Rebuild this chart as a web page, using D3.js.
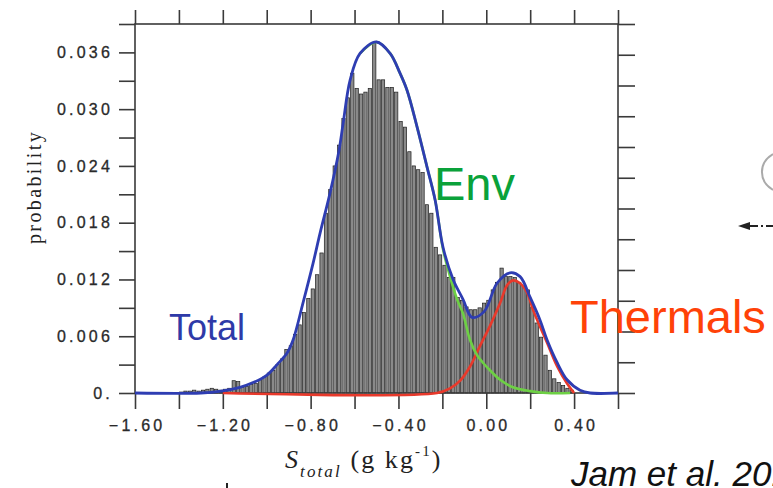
<!DOCTYPE html>
<html>
<head>
<meta charset="utf-8">
<script src="https://cdn.jsdelivr.net/npm/d3@7/dist/d3.min.js"></script>
<style>
  html, body { margin: 0; padding: 0; background: #fff; }
  svg { display: block; }
</style>
</head>
<body>
<svg id="chart" width="773" height="488"></svg>
<script>
// ---------------- data ----------------
const binWidth = 0.02;
const binLeft = [
  -1.40,-1.38,-1.36,-1.34,-1.32,-1.30,-1.28,-1.26,-1.24,-1.22,
  -1.20,-1.18,-1.16,-1.14,-1.12,-1.10,-1.08,-1.06,-1.04,-1.02,
  -1.00,-0.98,-0.96,-0.94,-0.92,-0.90,-0.88,-0.86,-0.84,-0.82,
  -0.80,-0.78,-0.76,-0.74,-0.72,-0.70,-0.68,-0.66,-0.64,-0.62,
  -0.60,-0.58,-0.56,-0.54,-0.52,-0.50,-0.48,-0.46,-0.44,-0.42,
  -0.40,-0.38,-0.36,-0.34,-0.32,-0.30,-0.28,-0.26,-0.24,-0.22,
  -0.20,-0.18,-0.16,-0.14,-0.12,-0.10,-0.08,-0.06,-0.04,-0.02,
   0.00, 0.02, 0.04, 0.06, 0.08, 0.10, 0.12, 0.14, 0.16, 0.18,
   0.20, 0.22, 0.24, 0.26, 0.28, 0.30, 0.32, 0.34, 0.36, 0.38
];
const binProb = [
  0.0001,0.0002,0.0002,0.0003,0.0002,0.0003,0.0004,0.0005,0.0004,0.0003,
  0.0004,0.0005,0.0013,0.0012,0.0006,0.0007,0.0009,0.0010,0.0014,0.0017,
  0.0021,0.0024,0.0030,0.0036,0.0046,0.0050,0.0062,0.0072,0.0085,0.0100,
  0.0110,0.0125,0.0148,0.0190,0.0215,0.0240,0.0262,0.0290,0.0312,0.0338,
  0.0322,0.0316,0.0318,0.0322,0.0370,0.0331,0.0331,0.0323,0.0323,0.0318,
  0.0287,0.0281,0.0255,0.0240,0.0236,0.0233,0.0199,0.0190,0.0154,0.0146,
  0.0135,0.0122,0.0122,0.0101,0.0098,0.0091,0.0088,0.0088,0.0090,0.0095,
  0.0098,0.0109,0.0117,0.0132,0.0123,0.0123,0.0122,0.0117,0.0113,0.0109,
  0.0091,0.0074,0.0059,0.0040,0.0024,0.0015,0.0011,0.0008,0.0005,0.0003
];

const totalX = [-1.60,-1.30,-1.208,-1.122,-1.062,-0.999,-0.953,-0.908,-0.880,-0.835,-0.789,-0.757,-0.712,-0.671,-0.652,-0.620,-0.575,-0.500,-0.438,-0.393,-0.361,-0.315,-0.270,-0.233,-0.197,-0.151,-0.106,-0.065,-0.010,0.049,0.108,0.154,0.200,0.245,0.277,0.323,0.368,0.427,0.473,0.60];
const totalY = [0,0,0.0002,0.0006,0.0011,0.0019,0.0030,0.0042,0.0056,0.0095,0.0137,0.0169,0.0211,0.0256,0.0285,0.0331,0.0359,0.0371,0.0359,0.0338,0.0320,0.0281,0.0239,0.0204,0.0154,0.0120,0.0099,0.0080,0.0086,0.0116,0.0127,0.0123,0.0101,0.0077,0.0056,0.0032,0.0014,0.0003,0,0];

const envX = [-0.575,-0.500,-0.438,-0.393,-0.361,-0.315,-0.270,-0.233,-0.197,-0.165,-0.133,-0.106,-0.074,-0.042,-0.015,0.017,0.063,0.122,0.200,0.277,0.382];
const envY = [0.0359,0.0371,0.0359,0.0338,0.0320,0.0281,0.0239,0.0204,0.0152,0.0123,0.0099,0.0084,0.0056,0.0040,0.0032,0.0024,0.0014,0.0006,0.0002,0,0];

const thermX = [-1.20,-0.224,-0.165,-0.119,-0.074,-0.028,0.017,0.063,0.095,0.122,0.154,0.186,0.213,0.245,0.277,0.323,0.368,0.40];
const thermY = [0,0,0.0005,0.0013,0.0028,0.0050,0.0071,0.0095,0.0114,0.0119,0.0116,0.0106,0.0088,0.0070,0.0053,0.0028,0.0010,0];

const xTickValues = [-1.6,-1.4,-1.2,-1.0,-0.8,-0.6,-0.4,-0.2,0.0,0.2,0.4,0.6];
const xTickLabels = {"-1.6":"\u22121.60","-1.2":"\u22121.20","-0.8":"\u22120.80","-0.4":"\u22120.40","0":"0.00","0.4":"0.40"};
const yTickValues = [0,0.003,0.006,0.009,0.012,0.015,0.018,0.021,0.024,0.027,0.030,0.033,0.036,0.039];
const yTickLabels = {"0":"0.","0.006":"0.006","0.012":"0.012","0.018":"0.018","0.024":"0.024","0.03":"0.030","0.036":"0.036"};
const rightTickValues = [0,1,2,3,4,5,6,7,8,9,10,11,12];

// ---------------- drawing ----------------
const svg = d3.select("#chart");
const x = d3.scaleLinear().domain([-1.6, 0.6]).range([135, 618]);
const y = d3.scaleLinear().domain([0, 0.039]).range([393, 24]);
const yR = d3.scaleLinear().domain([0, 12]).range([393, 24]);
const axisColor = "#3a3a3a";
const key = v => String(+v.toFixed(4));

// bars
svg.append("g").selectAll("rect").data(binLeft).join("rect")
  .attr("x", d => x(d) + 0.5)
  .attr("width", d => x(d + binWidth) - x(d) - 1.1)
  .attr("y", (d, i) => y(binProb[i]))
  .attr("height", (d, i) => y(0) - y(binProb[i]))
  .attr("fill", "#8a8a8a")
  .attr("stroke", "#1e1e1e")
  .attr("stroke-width", 0.7);

// axes
function styleAxis(g) {
  g.select(".domain").remove();
  g.selectAll("line").attr("stroke", axisColor).attr("stroke-width", 1.6);
  g.selectAll("text").attr("fill", "#2a2a2a")
    .style("font-family", "'Liberation Sans', Arial, sans-serif")
    .style("font-size", "16px").style("letter-spacing", "3.2px")
    .style("stroke", "#2a2a2a").style("stroke-width", "0.3px");
}
svg.append("g").attr("transform", "translate(135,0)")
  .call(d3.axisLeft(y).tickValues(yTickValues).tickSize(16).tickPadding(6)
    .tickFormat(v => yTickLabels[key(v)] || ""))
  .call(styleAxis);
svg.append("g").attr("transform", "translate(0,393)")
  .call(d3.axisBottom(x).tickValues(xTickValues).tickSize(16).tickPadding(11)
    .tickFormat(v => xTickLabels[key(v)] || ""))
  .call(styleAxis)
  .selectAll("text").attr("dx", "1.6px");
svg.append("g").attr("transform", "translate(0,24)")
  .call(d3.axisTop(x).tickValues(xTickValues).tickSize(14).tickFormat(""))
  .call(styleAxis);
svg.append("g").attr("transform", "translate(618,0)")
  .call(d3.axisRight(yR).tickValues(rightTickValues).tickSize(17).tickFormat(""))
  .call(styleAxis);

// frame
svg.append("rect").attr("x", 135).attr("y", 24).attr("width", 483).attr("height", 369)
  .attr("fill", "none").attr("stroke", axisColor).attr("stroke-width", 1.6);

// curves
const line = (xs, ys) => d3.line().curve(d3.curveCatmullRom.alpha(0.5))
  .x((d, i) => x(xs[i])).y((d, i) => y(ys[i]))(xs);
svg.append("path").attr("d", line(thermX, thermY)).attr("fill", "none")
  .attr("stroke", "#e8392b").attr("stroke-width", 2.6);
svg.append("path").attr("d", line(envX, envY)).attr("fill", "none")
  .attr("stroke", "#6dd044").attr("stroke-width", 2.6);
svg.append("path").attr("d", line(totalX, totalY)).attr("fill", "none")
  .attr("stroke", "#2e3db2").attr("stroke-width", 2.8);

// axis titles
svg.append("text").attr("transform", "translate(41,187) rotate(-90)")
  .attr("text-anchor", "middle")
  .style("font-family", "'Liberation Serif', 'Times New Roman', serif")
  .style("font-size", "20px").style("letter-spacing", "2.4px")
  .attr("fill", "#222").text("probability");

const xt = svg.append("text").attr("x", 285).attr("y", 468)
  .style("font-family", "'Liberation Serif', 'Times New Roman', serif")
  .attr("fill", "#222").style("letter-spacing", "2.1px");
xt.append("tspan").style("font-style", "italic").style("font-size", "26px").text("S");
xt.append("tspan").style("font-style", "italic").style("font-size", "17px").attr("dy", 9).text("total");
xt.append("tspan").style("font-size", "26px").attr("dy", -9).text(" (g kg");
xt.append("tspan").style("font-size", "15px").attr("dy", -12).text("-1");
xt.append("tspan").style("font-size", "26px").attr("dy", 12).text(")");

// annotations
const sans = "'Liberation Sans', Arial, sans-serif";
svg.append("text").attr("x", 169).attr("y", 340).style("font-family", sans)
  .style("font-size", "36px").attr("fill", "#2e3aa8").text("Total");
svg.append("text").attr("x", 434).attr("y", 200).style("font-family", sans)
  .style("font-size", "47px").attr("fill", "#0aa23a").text("Env");
svg.append("text").attr("x", 570).attr("y", 486).style("font-family", sans)
  .style("font-size", "47px").attr("fill", "#ff4208").attr("y", 333).text("Thermals");
svg.append("text").attr("x", 571).attr("y", 486).style("font-family", sans)
  .style("font-size", "35px").style("font-style", "italic").attr("fill", "#111")
  .text("Jam et al. 2013");

// slide fragments at the right edge
svg.append("path").attr("d", "M773,154 A26,22 0 0 0 773,190")
  .attr("fill", "none").attr("stroke", "#aaa").attr("stroke-width", 2);
svg.append("path").attr("d", "M738,226 L750,222 L750,230 Z").attr("fill", "#222");
svg.append("line").attr("x1", 750).attr("y1", 226).attr("x2", 773).attr("y2", 226)
  .attr("stroke", "#222").attr("stroke-width", 2).attr("stroke-dasharray", "8,3,2,3");
svg.append("line").attr("x1", 227).attr("y1", 483).attr("x2", 227).attr("y2", 488)
  .attr("stroke", "#222").attr("stroke-width", 2);
</script>
</body>
</html>
